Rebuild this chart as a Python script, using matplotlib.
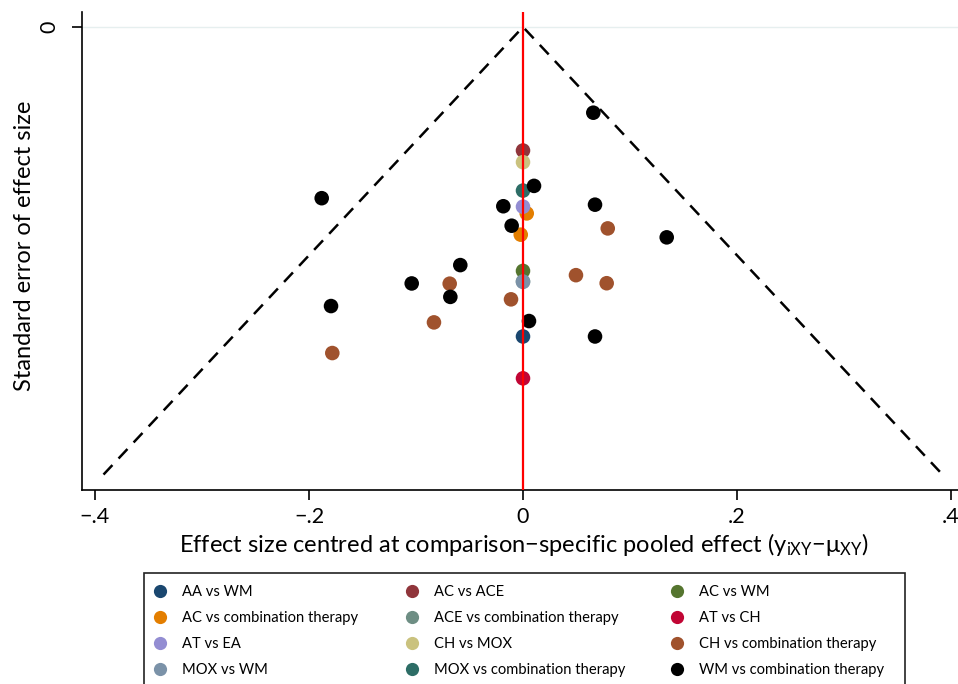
import matplotlib
matplotlib.use('Agg')
import matplotlib.pyplot as plt
from matplotlib.lines import Line2D
from matplotlib.patches import Rectangle

plt.rcParams['font.family'] = ['Lato', 'DejaVu Sans']
plt.rcParams['mathtext.fontset'] = 'custom'
plt.rcParams['mathtext.rm'] = 'Lato'
plt.rcParams['mathtext.it'] = 'Lato:italic'

# comparison groups, in legend order (row by row)
labels = ['AA vs WM', 'AC vs ACE', 'AC vs WM',
          'AC vs combination therapy', 'ACE vs combination therapy', 'AT vs CH',
          'AT vs EA', 'CH vs MOX', 'CH vs combination therapy',
          'MOX vs WM', 'MOX vs combination therapy', 'WM vs combination therapy']
colors = ['#1a476f', '#90353b', '#55752f',
          '#e37e00', '#6e8e84', '#c10534',
          '#938dd2', '#cac27e', '#a0522d',
          '#7b92a8', '#2d6d66', '#000000']

# centred effect sizes (x) and standard errors (se) per group
x_aa_wm = [0.0]
se_aa_wm = [0.1383]
x_ac_ace = [0.0]
se_ac_ace = [0.0552]
x_ac_wm = [0.0]
se_ac_wm = [0.1090]
x_ac_comb = [0.0035, -0.0021]
se_ac_comb = [0.0833, 0.0928]
x_ace_comb = [0.0]
se_ace_comb = [0.1137]
x_at_ch = [0.0]
se_at_ch = [0.1570]
x_at_ea = [0.0]
se_at_ea = [0.0803]
x_ch_mox = [0.0]
se_ch_mox = [0.0604]
x_ch_comb = [0.0792, 0.0495, -0.0685, 0.0782, -0.0112, -0.0832, -0.1782]
se_ch_comb = [0.0900, 0.1109, 0.1147, 0.1145, 0.1217, 0.1320, 0.1457]
x_mox_wm = [0.0]
se_mox_wm = [0.1139]
x_mox_comb = [0.0]
se_mox_comb = [0.0731]
x_wm_comb = [0.0657, 0.0103, -0.1881, -0.0184, 0.0673, -0.0106, 0.1343,
             -0.0586, -0.1040, -0.0679, -0.1794, 0.0056, 0.0673]
se_wm_comb = [0.0383, 0.0710, 0.0765, 0.0801, 0.0794, 0.0888, 0.0940,
              0.1064, 0.1146, 0.1206, 0.1247, 0.1314, 0.1383]

xs = [x_aa_wm, x_ac_ace, x_ac_wm, x_ac_comb, x_ace_comb, x_at_ch,
      x_at_ea, x_ch_mox, x_ch_comb, x_mox_wm, x_mox_comb, x_wm_comb]
ses = [se_aa_wm, se_ac_ace, se_ac_wm, se_ac_comb, se_ace_comb, se_at_ch,
       se_at_ea, se_ch_mox, se_ch_comb, se_mox_wm, se_mox_comb, se_wm_comb]

se_max = 0.2
xticks = [-0.4, -0.2, 0, 0.2, 0.4]
xtick_labels = ['\u2212.4', '\u2212.2', '0', '.2', '.4']

W, H = 958, 684
fig = plt.figure(figsize=(W / 100, H / 100), dpi=100)
ax = fig.add_axes([82 / W, 1 - 490 / H, 1 - 82 / W, (490 - 12) / H])

for x, se, c in zip(xs, ses, colors):
    ax.scatter(x, se, s=110, color=c, edgecolors='none', zorder=3)

# pseudo 95% confidence limits
ax.plot([-1.96 * se_max, 0, 1.96 * se_max], [se_max, 0, se_max], color='black',
        lw=1.8, dashes=(5.2, 3.6), zorder=4)
ax.axvline(0, color='#ff0000', lw=1.6, zorder=5)
ax.axhline(0, color='#e6efef', lw=1.0, zorder=1)

ax.set_xlim(-0.4121, 0.4065)
ax.set_ylim(0.2069, -0.0067)
ax.set_xticks(xticks)
ax.set_xticklabels(xtick_labels)
ax.set_yticks([0])
ax.set_yticklabels(['0'])
ax.tick_params(axis='both', labelsize=15.5, length=7, width=1.2, color='black')
ax.tick_params(axis='x', pad=5)
ax.tick_params(axis='y', labelrotation=90, pad=9)
for lab in ax.get_yticklabels():
    lab.set_va('center')
for side in ['top', 'right']:
    ax.spines[side].set_visible(False)
for side in ['left', 'bottom']:
    ax.spines[side].set_linewidth(1.2)

fig.text(524 / W, 1 - 545 / H,
         r'Effect size centred at comparison$-$specific pooled effect (y$_{\mathrm{iXY}}$$-$μ$_{\mathrm{XY}}$)',
         ha='center', va='center', fontsize=17)
fig.text(25 / W, 1 - 246 / H, 'Standard error of effect size',
         ha='center', va='center', rotation=90, fontsize=17)

# legend box and three columns
fig.patches.append(Rectangle((144 / W, -0.05), (905 - 144) / W, 1 - 573 / H + 0.05,
                             transform=fig.transFigure, fill=False, lw=1.2,
                             ec='#222222'))
col_x = [146.5, 398.5, 663.5]
for col in range(3):
    handles = []
    names = []
    for row in range(4):
        i = row * 3 + col
        handles.append(Line2D([], [], ls='none', marker='o', markersize=9.5,
                              markerfacecolor=colors[i], markeredgecolor='none'))
        names.append(labels[i])
    fig.legend(handles, names, loc='upper left',
               bbox_to_anchor=(col_x[col] / W, 1 - 585 / H),
               frameon=False, fontsize=10.6, borderpad=0, borderaxespad=0,
               handlelength=1.8, handletextpad=0.6, labelspacing=0.82)

fig.savefig('out.png', dpi=100)
